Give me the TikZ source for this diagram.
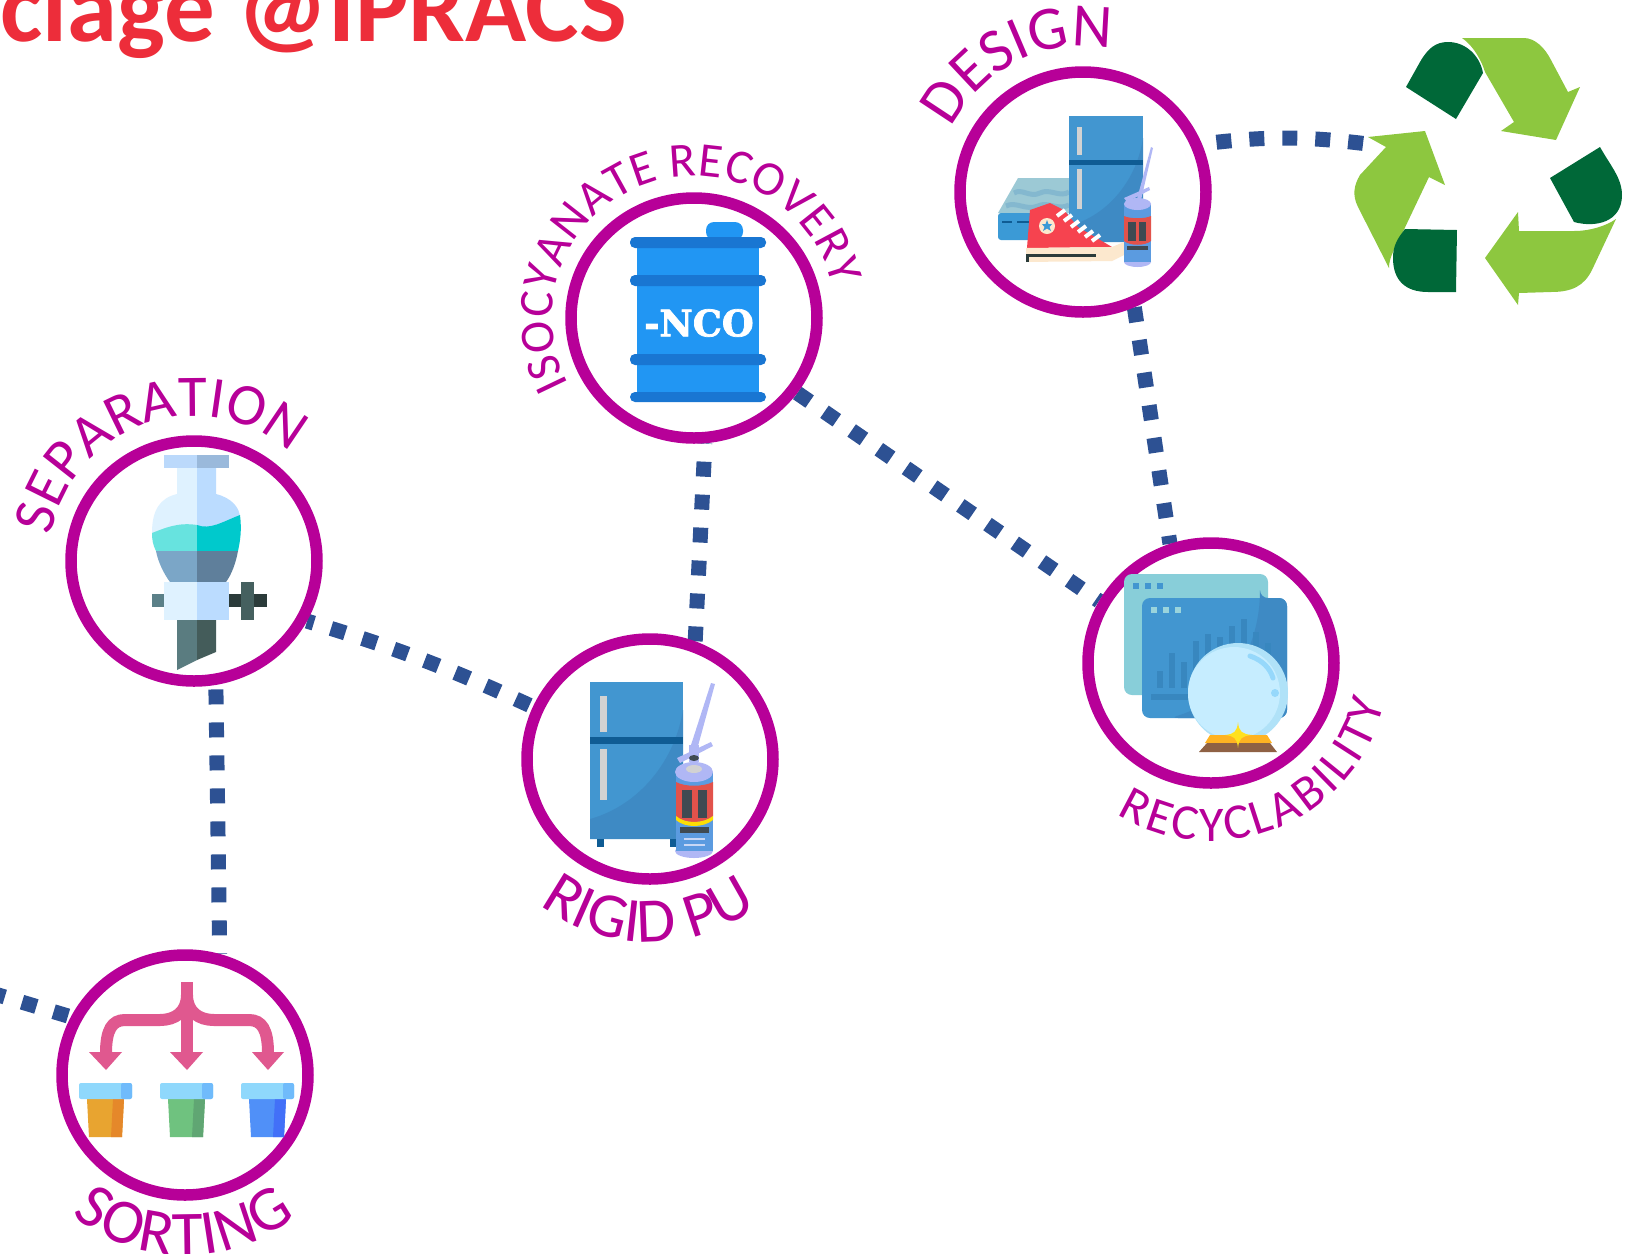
\documentclass[tikz,border=0pt]{standalone}
\usepackage{fontspec}
\setmainfont{Carlito}
\newfontfamily\barrelfont[BoldFeatures={FakeBold=2}]{DejaVu Serif}
\usetikzlibrary{backgrounds, decorations.text, shapes.geometric}
\definecolor{hubpurple}{HTML}{B70098}
\definecolor{linkblue}{HTML}{2D5193}
\definecolor{titlered}{HTML}{ED2D3A}
\definecolor{leafgreen}{HTML}{8DC73F}
\definecolor{pinegreen}{HTML}{006838}
\definecolor{drumblue}{HTML}{2196F3}
\definecolor{drumband}{HTML}{1976D2}
\definecolor{fridgeblue}{HTML}{4296D0}
\definecolor{fridgeshade}{HTML}{3E8AC4}
\definecolor{fridgeband}{HTML}{0F5C94}
\definecolor{handlegrey}{HTML}{D2D2D2}
\definecolor{canlilac}{HTML}{B0B7F5}
\definecolor{canred}{HTML}{E2524B}
\definecolor{canblue}{HTML}{5B9BE0}
\definecolor{candark}{HTML}{3F4A52}
\definecolor{sortpink}{HTML}{E0588F}
\definecolor{lidblue}{HTML}{8FD8FC}
\definecolor{lidshade}{HTML}{70BBFB}
\begin{document}
\begin{tikzpicture}[x=0.1mm, y=0.1mm]
\tikzstyle{every node}+=[inner sep=0pt]
\tikzstyle{hub}=[ellipse, draw=hubpurple, line width=1.15mm, fill=white, minimum width=24.6mm, minimum height=24mm]
\tikzstyle{link}=[draw=linkblue, line width=1.5mm, dash pattern=on 1.5mm off 1.8mm]
\tikzset{arclabel/.style 2 args={decorate, decoration={text along path, text align={fit to path}, text={|\fontsize{#1}{#1}\selectfont\color{hubpurple}|#2}}}}
\useasboundingbox (0,0) rectangle (1637,-1254);
\node (title) [anchor=base west, text=titlered, font=\bfseries\fontsize{28.7pt}{28.7pt}\selectfont] at (0,-41) {clage @IPRACS};
\node (separation) [hub] at (194,-561) {};
\node (isocyanate) [hub] at (694,-318) {};
\node (design) [hub] at (1083,-192) {};
\node (rigidpu) [hub] at (650,-759) {};
\node (recyclability) [hub] at (1211,-663) {};
\node (sorting) [hub] at (185,-1075) {};
\coordinate (offpage) at (-35,-985);
\coordinate (binarrow) at (1368,-144);
\begin{scope}[on background layer]
\draw [link, dash phase=3mm] (sorting.153) -- (offpage);
\draw [link, dash phase=2.85mm] (separation.-80) -- (sorting.74);
\draw [link, dash phase=0.8mm] (separation.-28) to [bend left=4] (rigidpu.156);
\draw [link, dash phase=1.46mm] (isocyanate.-85) -- (rigidpu.69);
\draw [link] (isocyanate.-36) -- (recyclability.151);
\draw [link] (design.-66) -- (recyclability.109);
\draw [link, dash phase=1.84mm] (design.22) to [bend left=7] (binarrow);
\end{scope}
\path [arclabel={16.8pt}{SEPARATION}] ([shift={(170:145)}]separation.center) arc (170:55:145);
\path [arclabel={13.8pt}{ISOCYANATE RECOVERY}] ([shift={(208:142)}]isocyanate.center) arc (208:13:142);
\path [arclabel={17.6pt}{DESIGN}] ([shift={(154:146)}]design.center) arc (154:82:146);
\path [arclabel={18pt}{RIGID PU}] ([shift={(-127:183)}]rigidpu.center) arc (-127:-57:183);
\path [arclabel={14.2pt}{RECYCLABILITY}] ([shift={(-122:178)}]recyclability.center) arc (-122:-13:178);
\path [arclabel={18pt}{SORTING}] ([shift={(-129:180)}]sorting.center) arc (-129:-52:180);
\fill [leafgreen] (1462,-38) -- (1524,-38) .. controls (1535,-38) and (1545,-48) .. (1551,-60) -- (1568,-92) -- (1580,-87) -- (1556,-140) -- (1501,-131) -- (1514,-122) -- (1485,-72) .. controls (1482,-62) and (1474,-46) .. (1462,-38) -- cycle;
\fill [leafgreen] (1368,-137) -- (1425,-131) -- (1445,-185) -- (1429,-177) -- (1400,-238) .. controls (1394,-250) and (1389,-258) .. (1389,-268) -- (1358,-207) .. controls (1352,-195) and (1354,-185) .. (1360,-175) -- (1386,-147) -- cycle;
\fill [leafgreen] (1518,-212) -- (1519,-231) -- (1574,-231) .. controls (1590,-231) and (1606,-226) .. (1616,-219) -- (1592,-270) .. controls (1584,-286) and (1572,-292) .. (1551,-292) -- (1519,-293) -- (1518,-305) -- (1485,-258) -- cycle;
\fill [pinegreen] (1406,-87) -- (1420,-62) .. controls (1428,-48) and (1436,-42) .. (1448,-42) .. controls (1466,-42) and (1480,-56) .. (1483,-73) -- (1456,-119) -- cycle;
\fill [pinegreen] (1405,-229) -- (1457,-230) -- (1456,-292) -- (1428,-292) .. controls (1405,-292) and (1393,-280) .. (1393,-258) .. controls (1393,-245) and (1398,-238) .. (1405,-229) -- cycle;
\fill [pinegreen] (1600,-147) -- (1550,-178) -- (1574,-222) .. controls (1596,-228) and (1622,-222) .. (1622,-195) .. controls (1622,-178) and (1610,-165) .. (1600,-147) -- cycle;
\fill [drumblue, rounded corners=0.8mm] (706,-240) -- (706,-222) -- (743,-222) -- (743,-240) -- cycle;
\fill [drumblue] (637,-238) rectangle (759,-400);
\fill [drumband, rounded corners=0.5mm] (630,-237) rectangle (766,-248);
\fill [drumband, rounded corners=0.5mm] (630,-275) rectangle (766,-286);
\fill [drumband, rounded corners=0.5mm] (630,-354) rectangle (766,-365);
\fill [drumband, rounded corners=0.5mm] (630,-392) rectangle (766,-402);
\node (nco) [text=white, font=\barrelfont\bfseries\fontsize{10.4pt}{10.4pt}\selectfont] at (699,-323) {-NCO};
\fill [fill={rgb,255:red,187;green,217;blue,251}] (164,-455) rectangle (197,-468);
\fill [fill={rgb,255:red,154;green,185;blue,219}] (197,-455) rectangle (229,-468);
\fill [fill={rgb,255:red,223;green,242;blue,255}] (177,-468) -- (177,-494) .. controls (160,-498) and (152,-510) .. (152,-533) -- (197,-533) -- (197,-468) -- cycle;
\fill [fill={rgb,255:red,187;green,220;blue,255}] (216,-468) -- (216,-494) .. controls (232,-498) and (240,-508) .. (240,-518) -- (197,-530) -- (197,-468) -- cycle;
\fill [fill={rgb,255:red,103;green,227;blue,223}] (152,-533) .. controls (165,-528) and (178,-522) .. (197,-525) -- (197,-551) -- (156,-551) .. controls (153,-545) and (152,-540) .. (152,-533) -- cycle;
\fill [fill={rgb,255:red,0;green,201;blue,204}] (197,-525) .. controls (210,-530) and (222,-522) .. (240,-515) .. controls (242,-530) and (240,-542) .. (238,-551) -- (197,-551) -- cycle;
\fill [fill={rgb,255:red,123;green,166;blue,199}] (156,-551) .. controls (158,-562) and (164,-574) .. (170,-582) -- (197,-582) -- (197,-551) -- cycle;
\fill [fill={rgb,255:red,95;green,127;blue,155}] (238,-551) .. controls (236,-562) and (232,-574) .. (226,-582) -- (197,-582) -- (197,-551) -- cycle;
\fill [fill={rgb,255:red,223;green,242;blue,255}] (164,-582) rectangle (197,-620);
\fill [fill={rgb,255:red,187;green,220;blue,255}] (197,-582) rectangle (229,-620);
\fill [fill={rgb,255:red,91;green,128;blue,136}] (152,-594) rectangle (164,-607);
\fill [fill={rgb,255:red,43;green,59;blue,58}] (229,-594) rectangle (267,-607);
\fill [fill={rgb,255:red,69;green,96;blue,95}] (241,-582) rectangle (254,-620);
\fill [fill={rgb,255:red,90;green,124;blue,128}] (177,-620) -- (197,-620) -- (197,-660) -- (177,-670) -- cycle;
\fill [fill={rgb,255:red,68;green,92;blue,90}] (197,-620) -- (216,-620) -- (216,-652) -- (197,-660) -- cycle;
\fill [fridgeblue] (590,-682) rectangle (683,-839);
\fill [fridgeshade] (590,-819) .. controls (640,-805) and (675,-760) .. (683,-710) -- (683,-839) -- (590,-839) -- cycle;
\fill [fridgeband] (590,-737) rectangle (683,-744);
\fill [handlegrey] (600,-696) rectangle (607,-732);
\fill [handlegrey] (600,-749) rectangle (607,-800);
\fill [fridgeband] (597,-839) rectangle (604,-847);
\fill [fridgeband] (670,-839) rectangle (677,-847);
\fill [canlilac] (711,-683) -- (715,-684) -- (698,-746) -- (691,-745) -- cycle;
\fill [canlilac] (677,-758) -- (711,-742) -- (713,-746) -- (680,-763) -- cycle;
\fill [canlilac] (689,-745) rectangle (699,-762);
\fill [canlilac] (694,-851) ellipse (19 and 7);
\fill [canblue] (676,-772) rectangle (713,-851);
\fill [canred] (676,-782) .. controls (685,-787) and (703,-787) .. (713,-782) -- (713,-816) .. controls (703,-824) and (685,-824) .. (676,-816) -- cycle;
\fill [candark] (682,-790) rectangle (692,-818);
\fill [candark] (698,-790) rectangle (707,-818);
\fill [yellow!80!orange] (676,-816) .. controls (685,-824) and (703,-824) .. (713,-816) -- (713,-820) .. controls (703,-828) and (685,-828) .. (676,-820) -- cycle;
\fill [candark] (680,-827) rectangle (709,-833);
\fill [canlilac] (694,-772) ellipse (19 and 10);
\fill [handlegrey] (694,-769) ellipse (8 and 4);
\fill [candark] (694,-758) ellipse (5 and 3);
\fill [fill={rgb,255:red,200;green,215;blue,245}] (684,-838) rectangle (705,-840);
\fill [fill={rgb,255:red,200;green,215;blue,245}] (684,-844) rectangle (705,-846);
\fill [fill={rgb,255:red,156;green,201;blue,213}] (998,-213) -- (1018,-178) -- (1069,-178) -- (1069,-213) -- cycle;
\draw [fill=none, draw={rgb,255:red,132;green,184;blue,207}, line width=0.5mm] (1014,-193) .. controls (1022,-188) and (1030,-198) .. (1040,-193) .. controls (1050,-188) and (1060,-198) .. (1069,-192);
\draw [fill=none, draw={rgb,255:red,132;green,184;blue,207}, line width=0.5mm] (1006,-206) .. controls (1016,-201) and (1026,-211) .. (1038,-206) .. controls (1048,-201) and (1058,-211) .. (1069,-205);
\fill [fill={rgb,255:red,59;green,154;blue,214}, rounded corners=0.3mm] (998,-213) rectangle (1069,-240);
\fill [fridgeband] (1002,-221) rectangle (1012,-223);
\fill [fridgeband] (1017,-221) rectangle (1030,-223);
\fill [fridgeblue] (1069,-116) rectangle (1143,-242);
\fill [fridgeshade] (1069,-226) .. controls (1109,-215) and (1137,-179) .. (1143,-138) -- (1143,-242) -- (1069,-242) -- cycle;
\fill [fridgeband] (1069,-160) rectangle (1143,-165);
\fill [handlegrey] (1077,-127) rectangle (1082,-155);
\fill [handlegrey] (1077,-169) rectangle (1082,-209);
\fill [fill={rgb,255:red,246;green,67;blue,79}] (1030,-210) -- (1050,-203) -- (1064,-210) -- (1078,-227) -- (1112,-247) -- (1027,-248) -- cycle;
\fill [fill={rgb,255:red,252;green,232;blue,206}] (1026,-248) -- (1112,-247) -- (1124,-242) -- (1124,-255) -- (1112,-261) -- (1026,-262) -- cycle;
\fill [fill={rgb,255:red,43;green,59;blue,58}] (1026,-254) rectangle (1096,-257);
\fill [fill={rgb,255:red,43;green,59;blue,58}] (1026,-257) rectangle (1029,-262);
\fill [fill={rgb,255:red,252;green,232;blue,206}] (1047,-226) circle (8);
\fill [fill={rgb,255:red,59;green,154;blue,214}] (1047,-220) -- (1048.5,-224) -- (1052,-224) -- (1049.5,-227) -- (1051,-231) -- (1047,-228.5) -- (1043,-231) -- (1044.5,-227) -- (1042,-224) -- (1045.5,-224) -- cycle;
\draw [white, line width=0.4mm] (1057,-216) -- (1065,-210);
\draw [white, line width=0.4mm] (1064,-221) -- (1072,-215);
\draw [white, line width=0.4mm] (1071,-227) -- (1079,-221);
\draw [white, line width=0.4mm] (1078,-232) -- (1086,-226);
\draw [white, line width=0.4mm] (1085,-237) -- (1093,-231);
\draw [white, line width=0.4mm] (1092,-241) -- (1100,-235);
\fill [canlilac] (1151,-147) -- (1153,-148) -- (1141,-200) -- (1137,-199) -- cycle;
\fill [canlilac] (1124,-198) -- (1149,-187) -- (1150,-190) -- (1127,-202) -- cycle;
\fill [canlilac] (1137.5,-262) ellipse (13.5 and 5);
\fill [canblue] (1124,-204) rectangle (1151,-262);
\fill [canred] (1124,-216) .. controls (1130,-219) and (1145,-219) .. (1151,-216) -- (1151,-241) .. controls (1145,-246) and (1130,-246) .. (1124,-241) -- cycle;
\fill [candark] (1128,-222) rectangle (1136,-241);
\fill [candark] (1139,-222) rectangle (1146,-241);
\fill [candark] (1127,-246) rectangle (1148,-250);
\fill [canlilac] (1137.5,-204) ellipse (13.5 and 6);
\fill [fill={rgb,255:red,136;green,206;blue,217}, rounded corners=0.8mm] (1124,-574) rectangle (1268,-695);
\fill [fridgeblue] (1133,-583) rectangle (1139,-589);
\fill [fridgeblue] (1145,-583) rectangle (1151,-589);
\fill [fridgeblue] (1157,-583) rectangle (1163,-589);
\fill [fridgeblue, rounded corners=0.8mm] (1142,-598) rectangle (1287,-718);
\fill [fridgeshade, rounded corners=0.8mm] (1260,-598) -- (1287,-598) -- (1287,-718) -- (1170,-718) .. controls (1230,-700) and (1255,-650) .. (1260,-598) -- cycle;
\fill [fill={rgb,255:red,154;green,212;blue,220}] (1151,-607) rectangle (1157,-613);
\fill [fill={rgb,255:red,154;green,212;blue,220}] (1163,-607) rectangle (1169,-613);
\fill [fill={rgb,255:red,154;green,212;blue,220}] (1175,-607) rectangle (1181,-613);
\fill [fill={rgb,255:red,56;green,135;blue,191}] (1157,-671) rectangle (1163,-688);
\fill [fill={rgb,255:red,56;green,135;blue,191}] (1169,-653) rectangle (1175,-688);
\fill [fill={rgb,255:red,56;green,135;blue,191}] (1181,-662) rectangle (1187,-688);
\fill [fill={rgb,255:red,56;green,135;blue,191}] (1193,-641) rectangle (1199,-688);
\fill [fill={rgb,255:red,56;green,135;blue,191}] (1205,-634) rectangle (1211,-688);
\fill [fill={rgb,255:red,56;green,135;blue,191}] (1217,-637) rectangle (1223,-688);
\fill [fill={rgb,255:red,56;green,135;blue,191}] (1229,-626) rectangle (1235,-688);
\fill [fill={rgb,255:red,56;green,135;blue,191}] (1241,-619) rectangle (1247,-688);
\fill [fill={rgb,255:red,56;green,135;blue,191}] (1253,-632) rectangle (1259,-688);
\fill [fill={rgb,255:red,56;green,135;blue,191}] (1265,-643) rectangle (1271,-688);
\fill [fill={rgb,255:red,56;green,135;blue,191}] (1151,-694) rectangle (1215,-700);
\fill [fill={rgb,255:red,176;green,226;blue,248}] (1238,-693) circle (50);
\fill [fill={rgb,255:red,198;green,237;blue,255}] (1234,-693) circle (46);
\draw [draw={rgb,255:red,150;green,216;blue,251}, line width=0.5mm, line cap=round] (1250,-656) .. controls (1262,-660) and (1270,-668) .. (1273,-678);
\fill [fill={rgb,255:red,150;green,216;blue,251}] (1275,-693) circle (4);
\fill [fill={rgb,255:red,255;green,179;blue,34}] (1210,-735) -- (1267,-735) -- (1272,-743) -- (1205,-743) -- cycle;
\fill [fill={rgb,255:red,143;green,97;blue,68}] (1207,-743) -- (1270,-743) -- (1277,-752) -- (1199,-752) -- cycle;
\fill [fill={rgb,255:red,255;green,225;blue,32}] (1238,-722) .. controls (1239,-732) and (1242,-734) .. (1252,-735) .. controls (1242,-736) and (1239,-738) .. (1238,-748) .. controls (1237,-738) and (1234,-736) .. (1225,-735) .. controls (1234,-734) and (1237,-732) .. (1238,-722) -- cycle;
\draw [sortpink, line width=1.2mm] (187,-982) -- (187,-1053);
\draw [sortpink, line width=1.2mm] (187,-995) .. controls (187,-1012) and (175,-1020) .. (160,-1020) -- (125,-1020) .. controls (112,-1020) and (106,-1030) .. (106,-1053);
\draw [sortpink, line width=1.2mm] (187,-995) .. controls (187,-1012) and (199,-1020) .. (214,-1020) -- (249,-1020) .. controls (262,-1020) and (268,-1030) .. (268,-1053);
\fill [sortpink] (89,-1052) -- (122,-1052) -- (106,-1070) -- cycle;
\fill [sortpink] (170,-1052) -- (203,-1052) -- (187,-1070) -- cycle;
\fill [sortpink] (252,-1052) -- (284,-1052) -- (268,-1070) -- cycle;
\fill [fill={rgb,255:red,232;green,164;blue,48}] (87,-1099) -- (124,-1099) -- (122,-1137) -- (89,-1137) -- cycle;
\fill [fill={rgb,255:red,229;green,136;blue,42}] (113,-1099) -- (124,-1099) -- (122,-1137) -- (111,-1137) -- cycle;
\fill [lidblue, rounded corners=0.2mm] (79,-1083) rectangle (132,-1099);
\fill [lidshade, rounded corners=0.2mm] (121,-1083) rectangle (132,-1099);
\fill [fill={rgb,255:red,111;green,194;blue,127}] (168,-1099) -- (205,-1099) -- (203,-1137) -- (170,-1137) -- cycle;
\fill [fill={rgb,255:red,96;green,166;blue,115}] (194,-1099) -- (205,-1099) -- (203,-1137) -- (192,-1137) -- cycle;
\fill [lidblue, rounded corners=0.2mm] (160,-1083) rectangle (213,-1099);
\fill [lidshade, rounded corners=0.2mm] (202,-1083) rectangle (213,-1099);
\fill [fill={rgb,255:red,80;green,144;blue,248}] (249,-1099) -- (286,-1099) -- (284,-1137) -- (251,-1137) -- cycle;
\fill [fill={rgb,255:red,66;green,112;blue,248}] (275,-1099) -- (286,-1099) -- (284,-1137) -- (273,-1137) -- cycle;
\fill [lidblue, rounded corners=0.2mm] (241,-1083) rectangle (294,-1099);
\fill [lidshade, rounded corners=0.2mm] (283,-1083) rectangle (294,-1099);
\end{tikzpicture}
\end{document}
